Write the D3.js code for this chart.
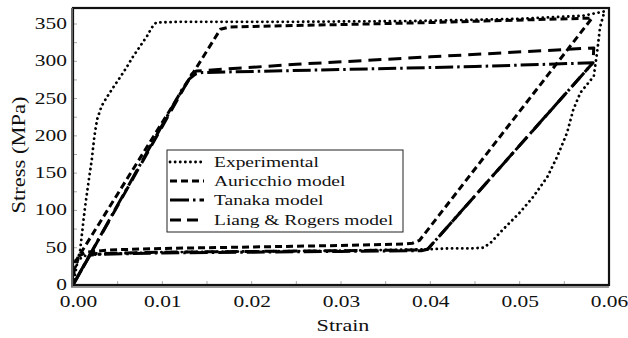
<!DOCTYPE html>
<html>
<head>
<meta charset="utf-8">
<script src="https://cdn.jsdelivr.net/npm/d3@7/dist/d3.min.js"></script>
<style>
  html, body { margin: 0; padding: 0; background: #fff; }
  svg { display: block; }
  svg text { font-family: "Liberation Serif", "DejaVu Serif", serif; fill: #111; }
</style>
</head>
<body>
<svg id="chart" width="628" height="338"></svg>
<script>
// Stress–strain loops: [strain, stress (MPa)]
const experimental = [
  [0,0],[0.0004,25],[0.0008,47],[0.0013,100],[0.0017,135],[0.0021,168],[0.0024,200],
  [0.0027,222],[0.0032,240],[0.0038,252],[0.0045,265],[0.0053,279],[0.0060,292],
  [0.0067,306],[0.0075,320],[0.0083,334],[0.0088,345],[0.0093,352],[0.012,353],
  [0.025,353],[0.038,354],[0.050,357],[0.057,361],[0.0595,367],
  [0.0590,346],[0.0587,315],[0.0583,280],[0.0568,258],[0.0560,235],[0.0553,204],
  [0.0542,172],[0.0531,145],[0.0515,118],[0.0500,97],[0.0481,74],[0.0467,56],
  [0.0459,50],[0.0444,49],[0.0420,49],[0.0400,48],[0.035,47],[0.030,46],[0.020,45],
  [0.010,44],[0.004,42],[0.0015,40],[0.0006,34],[0.0002,22]
];
const auricchio = [
  [0,0],[0.0002,30],[0.0165,343],[0.0175,346],[0.040,352],[0.0581,358],
  [0.0388,60],[0.0380,56],[0.0370,55],[0.030,53],[0.020,51],[0.010,49],
  [0.004,47],[0.0015,44],[0.0005,38],[0.0002,30]
];
const tanaka = [
  [0,0],[0.0122,262],[0.0130,276],[0.0137,283],[0.0145,285],[0.030,289],
  [0.045,293],[0.0582,298],[0.0397,48],[0.0390,46],[0.030,45],[0.020,44],
  [0.010,43],[0.0025,41],[0.0019,40],[0,0]
];
const liangRogers = [
  [0,0],[0.0133,283],[0.0138,287],[0.025,296],[0.040,306],[0.0583,318],
  [0.0582,298],[0.0397,48],[0.0390,47],[0.030,46],[0.020,45],[0.010,44],
  [0.0022,42],[0.0019,41],[0,0]
];

const seriesNames = ["Experimental", "Auricchio model", "Tanaka model", "Liang & Rogers model"];
const seriesData = [experimental, auricchio, tanaka, liangRogers];
const xTickValues = [0, 0.01, 0.02, 0.03, 0.04, 0.05, 0.06];
const yTickValues = [0, 50, 100, 150, 200, 250, 300, 350];
const xLabel = "Strain";
const yLabel = "Stress (MPa)";

// line dash patterns per series
const dashes = ["0.1 5", "7 4", "18 4 2.5 4", "13 7"];
const caps = ["round", "butt", "butt", "butt"];

const svg = d3.select("#chart");
const plotL = 73, plotR = 609, plotT = 8, plotB = 285;
const stretch = 1.3;
const serif = "'Liberation Serif', 'DejaVu Serif', serif";

const x = d3.scaleLinear().domain([0, 0.06]).range([plotL, plotR]);
const y = d3.scaleLinear().domain([0, 371.5]).range([plotB, plotT]);

svg.append("defs").append("clipPath").attr("id", "plot")
  .append("rect").attr("x", plotL).attr("y", plotT)
  .attr("width", plotR - plotL).attr("height", plotB - plotT);

// minor inner ticks
const minorX = d3.range(0, 0.0601, 0.005);
const minorY = d3.range(0, 371, 25);
svg.append("g").selectAll("line").data(minorX).join("line")
  .attr("x1", d => x(d)).attr("x2", d => x(d))
  .attr("y1", plotB).attr("y2", plotB - 4)
  .attr("stroke", "#aaa").attr("stroke-width", 1);
svg.append("g").selectAll("line").data(minorY).join("line")
  .attr("x1", plotL).attr("x2", plotL + 4)
  .attr("y1", d => y(d)).attr("y2", d => y(d))
  .attr("stroke", "#aaa").attr("stroke-width", 1);

// curves
const line = d3.line().x(d => x(d[0])).y(d => y(d[1]));
const curves = svg.append("g").attr("clip-path", "url(#plot)");
seriesData.forEach((data, i) => {
  curves.append("path")
    .datum(data)
    .attr("d", line)
    .attr("fill", "none")
    .attr("stroke", "#000")
    .attr("stroke-width", i === 0 ? 2.8 : 3)
    .attr("stroke-linecap", caps[i])
    .attr("stroke-linejoin", "round")
    .attr("stroke-dasharray", dashes[i]);
});

// frame and axis lines
svg.append("rect")
  .attr("x", plotL).attr("y", plotT)
  .attr("width", plotR - plotL).attr("height", plotB - plotT)
  .attr("fill", "none").attr("stroke", "#111").attr("stroke-width", 2.2);
svg.append("line").attr("x1", plotL - 1).attr("x2", plotL - 1)
  .attr("y1", plotT).attr("y2", plotB + 2)
  .attr("stroke", "#666").attr("stroke-width", 2);
svg.append("line").attr("x1", plotL - 2).attr("x2", plotR)
  .attr("y1", plotB + 2).attr("y2", plotB + 2)
  .attr("stroke", "#777").attr("stroke-width", 1.5);

// tick labels via d3 axes (tick lines hidden, labels kept)
const xAxis = d3.axisBottom(x).tickValues(xTickValues).tickFormat(d3.format(".2f")).tickSize(0);
const gx = svg.append("g").attr("transform", `translate(0,${plotB})`).call(xAxis)
  .attr("font-family", serif);
gx.select(".domain").remove();
gx.selectAll(".tick text")
  .attr("y", 0).attr("dy", 0)
  .attr("font-size", 16.5)
  .style("font-family", serif)
  .attr("fill", "#111")
  .attr("text-anchor", "middle")
  .attr("transform", (d, i) => `translate(${i === 0 ? 5 : 0},22) scale(${stretch},1)`);

const yAxis = d3.axisLeft(y).tickValues(yTickValues).tickSize(0);
const gy = svg.append("g").attr("transform", `translate(${plotL},0)`).call(yAxis)
  .attr("font-family", serif);
gy.select(".domain").remove();
gy.selectAll(".tick text")
  .attr("x", 0).attr("dy", "0.33em")
  .attr("font-size", 16.5)
  .style("font-family", serif)
  .attr("fill", "#111")
  .attr("text-anchor", "end")
  .attr("transform", `translate(-6,-1) scale(${stretch},1)`);

svg.append("text")
  .attr("transform", `translate(${(plotL + plotR) / 2 + 2},331) scale(${stretch},1)`)
  .attr("text-anchor", "middle").attr("font-size", 17)
  .style("font-family", serif)
  .text(xLabel);

svg.append("text")
  .attr("transform", `translate(25,155) rotate(-90) scale(1.25,1)`)
  .attr("text-anchor", "middle").attr("font-size", 18)
  .style("font-family", serif)
  .text(yLabel);

// legend
const legend = svg.append("g");
legend.append("rect")
  .attr("x", 167).attr("y", 150).attr("width", 236).attr("height", 82)
  .attr("fill", "#fff").attr("stroke", "#222").attr("stroke-width", 1);
const rowY = [162, 181, 200, 220];
seriesNames.forEach((name, i) => {
  legend.append("line")
    .attr("x1", 170).attr("x2", 204)
    .attr("y1", rowY[i]).attr("y2", rowY[i])
    .attr("stroke", "#000").attr("stroke-width", i === 0 ? 2.8 : 3)
    .attr("stroke-linecap", caps[i])
    .attr("stroke-dasharray", i === 2 ? "19 4 2.5 4" : (i === 3 ? "11 6" : dashes[i]));
  legend.append("text")
    .attr("transform", `translate(214,${rowY[i] + 5}) scale(${stretch},1)`)
    .attr("font-size", 15)
    .style("font-family", serif)
    .text(name);
});
</script>
</body>
</html>
